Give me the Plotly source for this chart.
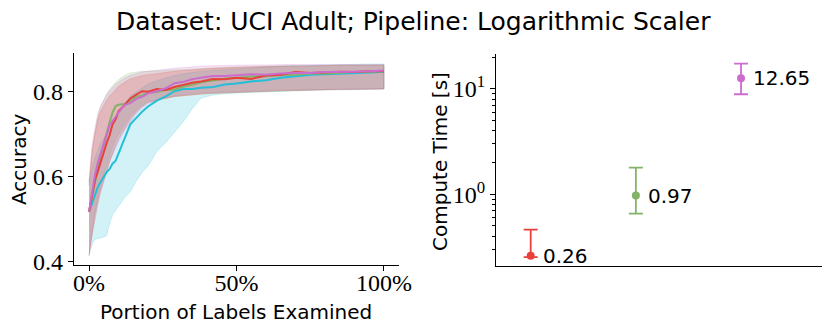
import math
import plotly.graph_objects as go

# portion of labels examined (%)
x_pct = [0, 1, 2, 3, 4, 5, 6, 7, 8, 9, 10, 12, 14, 16, 18, 20, 23, 26, 29, 32, 35,
         38, 42, 46, 50, 55, 60, 65, 70, 75, 80, 85, 90, 95, 100]

# mean accuracy per method
red_mean = [0.517, 0.558, 0.592, 0.613, 0.637, 0.655, 0.680, 0.698, 0.724, 0.735, 0.754,
            0.768, 0.784, 0.793, 0.801, 0.800, 0.806, 0.804, 0.811, 0.816, 0.821,
            0.824, 0.830, 0.829, 0.833, 0.830, 0.838, 0.840, 0.846, 0.844, 0.846, 0.847, 0.846, 0.848, 0.848]
red_low = [0.412, 0.46, 0.50, 0.535, 0.565, 0.59, 0.612, 0.635, 0.655, 0.672, 0.689,
           0.712, 0.735, 0.752, 0.765, 0.775, 0.780, 0.784, 0.788, 0.790, 0.792,
           0.794, 0.796, 0.798, 0.799, 0.800, 0.801, 0.802, 0.803, 0.804, 0.804, 0.805, 0.805, 0.806, 0.806]
red_high = [0.585, 0.66, 0.70, 0.735, 0.755, 0.768, 0.780, 0.790, 0.798, 0.806, 0.812,
            0.822, 0.830, 0.834, 0.838, 0.840, 0.842, 0.845, 0.848, 0.850, 0.852,
            0.853, 0.855, 0.856, 0.857, 0.858, 0.859, 0.860, 0.860, 0.861, 0.861, 0.862, 0.862, 0.862, 0.862]

green_mean = [0.517, 0.553, 0.587, 0.618, 0.652, 0.676, 0.706, 0.729, 0.751, 0.766, 0.769,
              0.771, 0.779, 0.788, 0.791, 0.797, 0.799, 0.804, 0.805, 0.812, 0.816,
              0.822, 0.826, 0.831, 0.832, 0.836, 0.836, 0.839, 0.840, 0.843, 0.843, 0.845, 0.846, 0.847, 0.848]
green_low = [0.42, 0.47, 0.515, 0.55, 0.58, 0.605, 0.628, 0.650, 0.670, 0.688, 0.700,
             0.722, 0.740, 0.756, 0.768, 0.776, 0.781, 0.785, 0.789, 0.791, 0.793,
             0.795, 0.797, 0.798, 0.799, 0.800, 0.801, 0.802, 0.803, 0.804, 0.805, 0.805, 0.806, 0.806, 0.807]
green_high = [0.58, 0.655, 0.705, 0.742, 0.765, 0.782, 0.795, 0.806, 0.815, 0.822, 0.828,
              0.838, 0.844, 0.846, 0.848, 0.848, 0.849, 0.850, 0.852, 0.853, 0.854,
              0.855, 0.856, 0.857, 0.858, 0.859, 0.860, 0.860, 0.861, 0.861, 0.862, 0.862, 0.862, 0.863, 0.863]

purple_mean = [0.517, 0.566, 0.604, 0.633, 0.657, 0.681, 0.699, 0.721, 0.732, 0.743, 0.751,
               0.769, 0.773, 0.783, 0.788, 0.796, 0.801, 0.808, 0.820, 0.823, 0.829,
               0.833, 0.837, 0.837, 0.839, 0.841, 0.840, 0.843, 0.844, 0.844, 0.846, 0.846, 0.847, 0.848, 0.850]
purple_low = [0.415, 0.465, 0.51, 0.545, 0.57, 0.592, 0.615, 0.636, 0.652, 0.668, 0.682,
              0.708, 0.728, 0.748, 0.762, 0.772, 0.780, 0.785, 0.790, 0.793, 0.795,
              0.797, 0.799, 0.800, 0.801, 0.802, 0.803, 0.804, 0.804, 0.805, 0.805, 0.806, 0.806, 0.806, 0.807]
purple_high = [0.59, 0.672, 0.715, 0.748, 0.768, 0.782, 0.793, 0.802, 0.810, 0.817, 0.822,
               0.832, 0.838, 0.842, 0.846, 0.848, 0.851, 0.853, 0.855, 0.857, 0.858,
               0.860, 0.861, 0.862, 0.862, 0.863, 0.863, 0.864, 0.864, 0.864, 0.864, 0.864, 0.864, 0.864, 0.864]

cyan_mean = [0.517, 0.536, 0.553, 0.576, 0.588, 0.601, 0.611, 0.618, 0.631, 0.637, 0.656,
             0.689, 0.723, 0.739, 0.753, 0.765, 0.779, 0.789, 0.801, 0.806, 0.806,
             0.809, 0.811, 0.817, 0.819, 0.824, 0.827, 0.833, 0.837, 0.840, 0.841, 0.842, 0.844, 0.845, 0.847]
cyan_low = [0.415, 0.44, 0.452, 0.455, 0.456, 0.458, 0.462, 0.49, 0.51, 0.52, 0.53,
            0.55, 0.565, 0.59, 0.61, 0.625, 0.66, 0.68, 0.705, 0.73, 0.76,
            0.785, 0.792, 0.795, 0.797, 0.799, 0.800, 0.801, 0.802, 0.803, 0.804, 0.804, 0.805, 0.805, 0.806]
cyan_high = [0.58, 0.62, 0.645, 0.665, 0.68, 0.69, 0.70, 0.71, 0.72, 0.73, 0.745,
             0.77, 0.79, 0.80, 0.81, 0.818, 0.826, 0.832, 0.838, 0.842, 0.845,
             0.848, 0.850, 0.852, 0.854, 0.856, 0.858, 0.860, 0.861, 0.862, 0.863, 0.864, 0.864, 0.865, 0.865]

# compute time (s)
time_pos = [0, 1, 2]
time_mean = [0.26, 0.97, 12.65]
time_low = [0.252, 0.655, 8.9]
time_high = [0.46, 1.79, 17.4]
time_labels = ['0.26', '0.97', '12.65']
time_colors = ['#e8403a', '#82b366', '#cc6ccf']

cyan = ('#22bfd8', (34, 191, 216), cyan_mean, cyan_low, cyan_high)
green = ('#82b366', (130, 179, 102), green_mean, green_low, green_high)
purple = ('#cc6ccf', (204, 108, 207), purple_mean, purple_low, purple_high)
red = ('#e8403a', (232, 64, 58), red_mean, red_low, red_high)

fig = go.Figure()

# bands first (red band on top gives the mauve overlap), then lines (purple on top)
for col, rgb, mean, low, high in [cyan, green, purple, red]:
    fig.add_trace(go.Scatter(
        x=x_pct + x_pct[::-1], y=high + low[::-1], fill='toself',
        fillcolor='rgba(%d,%d,%d,0.2)' % rgb,
        line=dict(color='rgba(%d,%d,%d,0.25)' % rgb, width=0.8),
        hoverinfo='skip', showlegend=False, xaxis='x', yaxis='y'))
for col, rgb, mean, low, high in [cyan, green, red, purple]:
    fig.add_trace(go.Scatter(x=x_pct, y=mean, mode='lines', line=dict(color=col, width=2),
                             showlegend=False, xaxis='x', yaxis='y'))

for i in range(3):
    fig.add_trace(go.Scatter(
        x=[time_pos[i]], y=[time_mean[i]], mode='markers',
        marker=dict(color=time_colors[i], size=8),
        error_y=dict(type='data', symmetric=False,
                     array=[time_high[i] - time_mean[i]],
                     arrayminus=[time_mean[i] - time_low[i]],
                     color=time_colors[i], thickness=1.8, width=7),
        showlegend=False, xaxis='x2', yaxis='y2'))

sans = 'DejaVu Sans'
serif = 'Liberation Serif'

annotations = []
for i in range(3):
    annotations.append(dict(x=time_pos[i], y=math.log10(time_mean[i]), xref='x2', yref='y2',
                            text=time_labels[i], showarrow=False, xanchor='left', xshift=10,
                            font=dict(family=sans, size=20, color='black')))

annotations += [
    dict(x=413 / 830, y=1 - 22 / 333, xref='paper', yref='paper', text='Dataset: UCI Adult; Pipeline: Logarithmic Scaler',
         showarrow=False, xanchor='center', yanchor='middle', font=dict(family=sans, size=25, color='black')),
    dict(x=236 / 830, y=1 - 312 / 333, xref='paper', yref='paper', text='Portion of Labels Examined',
         showarrow=False, xanchor='center', yanchor='middle', font=dict(family=sans, size=20, color='black')),
    dict(x=19 / 830, y=1 - 160 / 333, xref='paper', yref='paper', text='Accuracy', textangle=-90,
         showarrow=False, xanchor='center', yanchor='middle', font=dict(family=sans, size=20, color='black')),
    dict(x=440 / 830, y=1 - 162 / 333, xref='paper', yref='paper', text='Compute Time [s]', textangle=-90,
         showarrow=False, xanchor='center', yanchor='middle', font=dict(family=sans, size=20, color='black')),
]

fig.update_layout(
    width=830, height=333,
    margin=dict(l=0, r=0, t=0, b=0),
    plot_bgcolor='white', paper_bgcolor='white',
    annotations=annotations,
    xaxis=dict(domain=[74 / 830, 399 / 830], range=[-5.1, 105.1], tickvals=[0, 50, 100],
               ticktext=['0%', '50%', '100%'], showgrid=False, zeroline=False, automargin=False,
               showline=True, linecolor='black', linewidth=1.2, ticks='outside', ticklen=5,
               ticklabelstandoff=-9,
               tickcolor='black', tickfont=dict(family=serif, size=24, color='black'), anchor='y'),
    yaxis=dict(domain=[1 - 265 / 333, 1 - 53 / 333], range=[0.392, 0.891], tickvals=[0.4, 0.6, 0.8],
               ticktext=['0.4', '0.6', '0.8'], showgrid=False, zeroline=False, automargin=False,
               showline=True, linecolor='black', linewidth=1.2, ticks='outside', ticklen=5,
               tickcolor='black', tickfont=dict(family=serif, size=24, color='black'), anchor='x'),
    xaxis2=dict(domain=[496 / 830, 822 / 830], range=[-0.33, 2.77], showticklabels=False, ticks='',
                showgrid=False, zeroline=False, showline=True, linecolor='black', linewidth=1.2,
                automargin=False, anchor='y2'),
    yaxis2=dict(domain=[1 - 266 / 333, 1 - 54 / 333], type='log', range=[-0.682, 1.332],
                tickvals=[1, 10], ticktext=['10<sup>0</sup>', '10<sup>1</sup>'],
                showgrid=False, zeroline=False, showline=True, linecolor='black', linewidth=1.2,
                ticks='outside', ticklen=5, tickcolor='black', automargin=False,
                tickfont=dict(family=serif, size=24, color='black'),
                minor=dict(tickvals=[0.3, 0.4, 0.5, 0.6, 0.7, 0.8, 0.9, 2, 3, 4, 5, 6, 7, 8, 9, 20],
                           ticks='outside', ticklen=3, tickcolor='black', showgrid=False),
                anchor='x2'),
)

# the page body has a default margin; drop it so the figure fills the window
fig.write_html("out.html", config={'displayModeBar': False},
               post_script="document.body.style.margin='0px';")
